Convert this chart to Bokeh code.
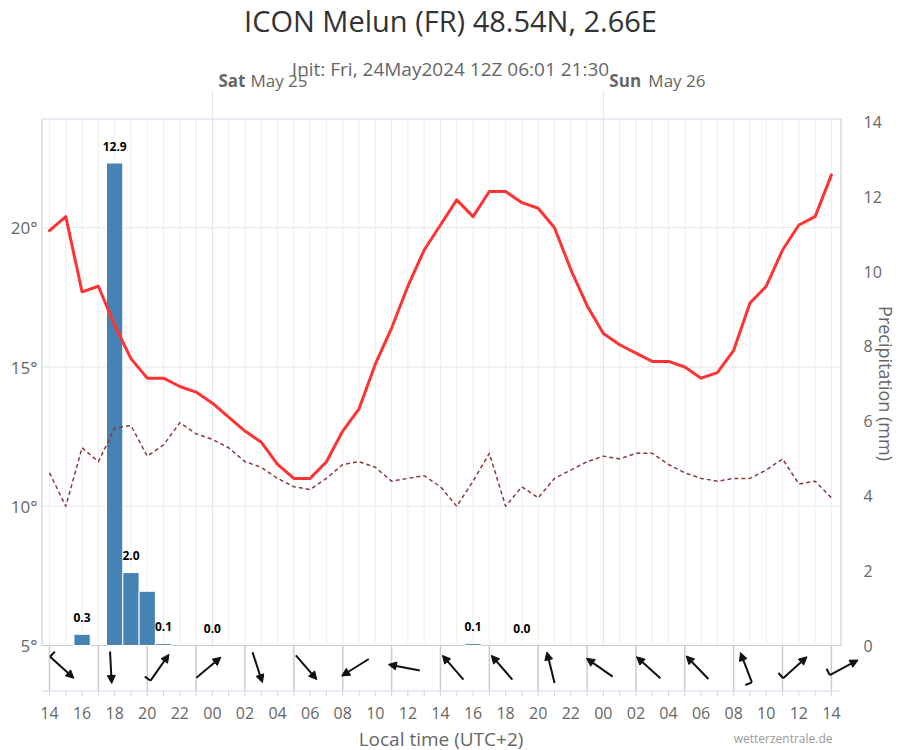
import math
from bokeh.plotting import figure
from bokeh.models import Range1d, Arrow, NormalHead, ColumnDataSource
from bokeh.embed import file_html
from bokeh.resources import INLINE
from bokeh.core.properties import value

FONT = "Open Sans"

# ---------------- data (hours after Fri 24 May 14:00 local) ----------------
hours = list(range(49))
temp_c = [19.9, 20.4, 17.7, 17.9, 16.5, 15.3, 14.6, 14.6, 14.3, 14.1,
          13.7, 13.2, 12.7, 12.3, 11.5, 11.0, 11.0, 11.6, 12.7, 13.5,
          15.1, 16.4, 17.9, 19.2, 20.1, 21.0, 20.4, 21.3, 21.3, 20.9,
          20.7, 20.0, 18.5, 17.2, 16.2, 15.8, 15.5, 15.2, 15.2, 15.0,
          14.6, 14.8, 15.6, 17.3, 17.9, 19.2, 20.1, 20.4, 21.9]
dew_c = [11.2, 10.0, 12.1, 11.6, 12.8, 12.9, 11.8, 12.2, 13.0, 12.6,
         12.4, 12.1, 11.6, 11.4, 11.0, 10.7, 10.6, 11.0, 11.5, 11.6,
         11.4, 10.9, 11.0, 11.1, 10.7, 10.0, 10.9, 11.9, 10.0, 10.7,
         10.3, 11.0, 11.3, 11.6, 11.8, 11.7, 11.9, 11.9, 11.5, 11.2,
         11.0, 10.9, 11.0, 11.0, 11.3, 11.7, 10.8, 10.9, 10.3]
precip_hours = [2, 4, 5, 6, 7, 26]
precip_mm = [0.3, 12.9, 1.95, 1.45, 0.05, 0.05]
precip_label_hours = [2, 4, 5, 7, 10, 26, 29]
precip_label_mm = [0.3, 12.9, 1.95, 0.05, 0.0, 0.05, 0.0]
precip_label_text = ["0.3", "12.9", "2.0", "0.1", "0.0", "0.1", "0.0"]
wind_hours = list(range(0, 49, 3))
wind_from_deg = [312, 357, 215, 230, 342, 319, 58, 101, 139, 139, 166, 125, 132, 136, 159, 228, 242]
wind_barbs = [1, 0, 1, 0, 0, 0, 0, 0, 0, 0, 0, 0, 0, 0, 1, 1, 1]
x_tick_hours = list(range(0, 49, 2))
x_tick_labels = ["14", "16", "18", "20", "22", "00", "02", "04", "06", "08", "10", "12",
                 "14", "16", "18", "20", "22", "00", "02", "04", "06", "08", "10", "12", "14"]
temp_ticks = [5, 10, 15, 20]
temp_tick_labels = ["5°", "10°", "15°", "20°"]
temp_grid = [10, 15, 20]
precip_ticks = [0, 2, 4, 6, 8, 10, 12, 14]
precip_tick_labels = ["0", "2", "4", "6", "8", "10", "12", "14"]
day_hours = [10, 34]
day_names = ["Sat", "Sun"]
day_dates = ["May 25", "May 26"]
day_date_offsets = [38, 45]

# ---------------- geometry (canvas pixels) ----------------
W, H = 900, 750
PX_H = 16.29      # px per hour, hour 0 at x=49
PX_T = 27.85      # px per degree, 5 deg at y=645
PX_P = 37.4       # px per mm, 0 mm at y=645


def hx(px):
    return (px - 49) / PX_H


def ty(py):
    return 5 + (645 - py) / PX_T


def pr(py):
    return (645 - py) / PX_P


p = figure(width=W, height=H, x_range=Range1d(hx(0), hx(W)), y_range=Range1d(ty(H), ty(0)),
           min_border=0, min_border_left=0, min_border_right=0, min_border_top=0, min_border_bottom=0,
           x_axis_location=None, y_axis_location=None,
           toolbar_location=None, output_backend="svg", title=None)
p.extra_y_ranges = {"precip": Range1d(pr(H), pr(0))}
p.outline_line_color = None
p.background_fill_color = "white"
p.border_fill_color = "white"
p.xgrid.visible = False
p.ygrid.visible = False

top_t = ty(118)
left_h, right_h = hx(41), hx(840)

# hourly vertical grid in the main panel
p.segment(x0=hours, x1=hours, y0=5, y1=top_t, line_color="#eeeeee", line_width=1)
# horizontal grid
p.segment(x0=left_h, x1=right_h, y0=temp_grid, y1=temp_grid, line_color="#e6e6e6", line_width=1)
# day separators (inside plot slightly stronger, and above the plot)
p.segment(x0=day_hours, x1=day_hours, y0=5, y1=ty(90), line_color="#dfe5ef", line_width=1)
# main panel borders
p.segment(x0=[hx(41.5), hx(840.5)], x1=[hx(41.5), hx(840.5)], y0=[5, 5], y1=[ty(118.5), ty(118.5)],
          line_color="#cccccc", line_width=1)
p.segment(x0=hx(41), x1=hx(841), y0=[5], y1=[5], line_color="#cccccc", line_width=1)
p.segment(x0=hx(41), x1=hx(841), y0=[ty(118.5)], y1=[ty(118.5)], line_color="#ccd6eb", line_width=1)
# wind strip dividers
p.segment(x0=wind_hours, x1=wind_hours, y0=ty(690), y1=5, line_color="#cccccc", line_width=1.5)

# x axis (line, ticks, labels)
p.segment(x0=hx(41), x1=hx(840), y0=[ty(690.5)], y1=[ty(690.5)], line_color="#ccd6eb", line_width=1)
p.segment(x0=hours, x1=hours, y0=ty(690), y1=ty(696), line_color="#ccd6eb", line_width=1)
p.text(x=x_tick_hours, y=ty(712), text=x_tick_labels, text_align="center", text_baseline="middle",
       text_font=value(FONT), text_font_size="16px", text_color="#666666")
# left axis labels (temperature)
p.text(x=hx(37), y=temp_ticks, text=temp_tick_labels, text_align="right", text_baseline="middle",
       text_font=value(FONT), text_font_size="17px", text_color="#666666")
# right axis labels (precipitation)
p.text(x=hx(863), y=precip_ticks, text=precip_tick_labels, y_range_name="precip",
       text_align="left", text_baseline="middle",
       text_font=value(FONT), text_font_size="16px", text_color="#666666")

# precipitation bars
p.vbar(x=precip_hours, top=precip_mm, bottom=0, width=1.0, y_range_name="precip",
       fill_color="#4682b4", line_color="white", line_width=1)

# dew point and temperature
p.line(hours, dew_c, line_color="#8b3a3a", line_width=1.5, line_dash="4 3", line_join="round")
p.line(hours, temp_c, line_color="#ff3333", line_width=3, line_join="round", line_cap="round")

# bar labels
p.text(x=precip_label_hours, y=precip_label_mm, text=precip_label_text, y_range_name="precip",
       y_offset=-17, text_align="center", text_baseline="middle",
       text_font=value(FONT), text_font_style="bold", text_font_size="12px", text_color="#000000")

# wind arrows
xs, ys, xe, ye = [], [], [], []
bx0, by0, bx1, by1 = [], [], [], []
cy = ty(667)
for h, d, nb in zip(wind_hours, wind_from_deg, wind_barbs):
    b = math.radians((d + 180) % 360)
    cx = h + 12.5 / PX_H
    dxh = 16 * math.sin(b) / PX_H
    dyt = 16 * math.cos(b) / PX_T
    xs.append(cx - dxh); ys.append(cy - dyt)
    xe.append(cx + dxh); ye.append(cy + dyt)
    if nb:
        bx0.append(cx - dxh); by0.append(cy - dyt)
        bx1.append(cx - dxh - 7 * math.cos(b) / PX_H)
        by1.append(cy - dyt + 7 * math.sin(b) / PX_T)

asrc = ColumnDataSource(dict(xs=xs, ys=ys, xe=xe, ye=ye))
p.add_layout(Arrow(x_start="xs", y_start="ys", x_end="xe", y_end="ye", source=asrc,
                   line_color="#111111", line_width=2,
                   end=NormalHead(size=8, fill_color="#111111", line_color="#111111", line_width=1)))
p.segment(x0=bx0, y0=by0, x1=bx1, y1=by1, line_color="#111111", line_width=2)

# day labels
p.text(x=day_hours, y=ty(80), text=day_names, x_offset=6, text_align="left", text_baseline="middle",
       text_font=value(FONT), text_font_size="17px", text_font_style="bold", text_color="#666666")
p.text(x=day_hours, y=ty(80), text=day_dates, x_offset=day_date_offsets, text_align="left",
       text_baseline="middle", text_font=value(FONT), text_font_size="17px", text_color="#666666")

# titles and axis titles
p.text(x=[hx(450)], y=[ty(20)], text=["ICON Melun (FR) 48.54N, 2.66E"], text_align="center",
       text_baseline="middle", text_font=value(FONT), text_font_size="29px", text_color="#333333")
p.text(x=[hx(450)], y=[ty(68)], text=["Init: Fri, 24May2024 12Z 06:01 21:30"], text_align="center",
       text_baseline="middle", text_font=value(FONT), text_font_size="19px", text_color="#666666")
p.text(x=[hx(440.5)], y=[ty(738)], text=["Local time (UTC+2)"], text_align="center",
       text_baseline="middle", text_font=value(FONT), text_font_size="19px", text_color="#666666")
p.text(x=[hx(832)], y=[ty(738)], text=["wetterzentrale.de"], text_align="right",
       text_baseline="middle", text_font=value(FONT), text_font_size="12px", text_color="#999999")
p.text(x=[hx(885)], y=[ty(383)], text=["Precipitation (mm)"], angle=-math.pi / 2,
       text_align="center", text_baseline="middle", text_font=value(FONT),
       text_font_size="18px", text_color="#666666")

open("out.html", "w").write(file_html(p, INLINE))
